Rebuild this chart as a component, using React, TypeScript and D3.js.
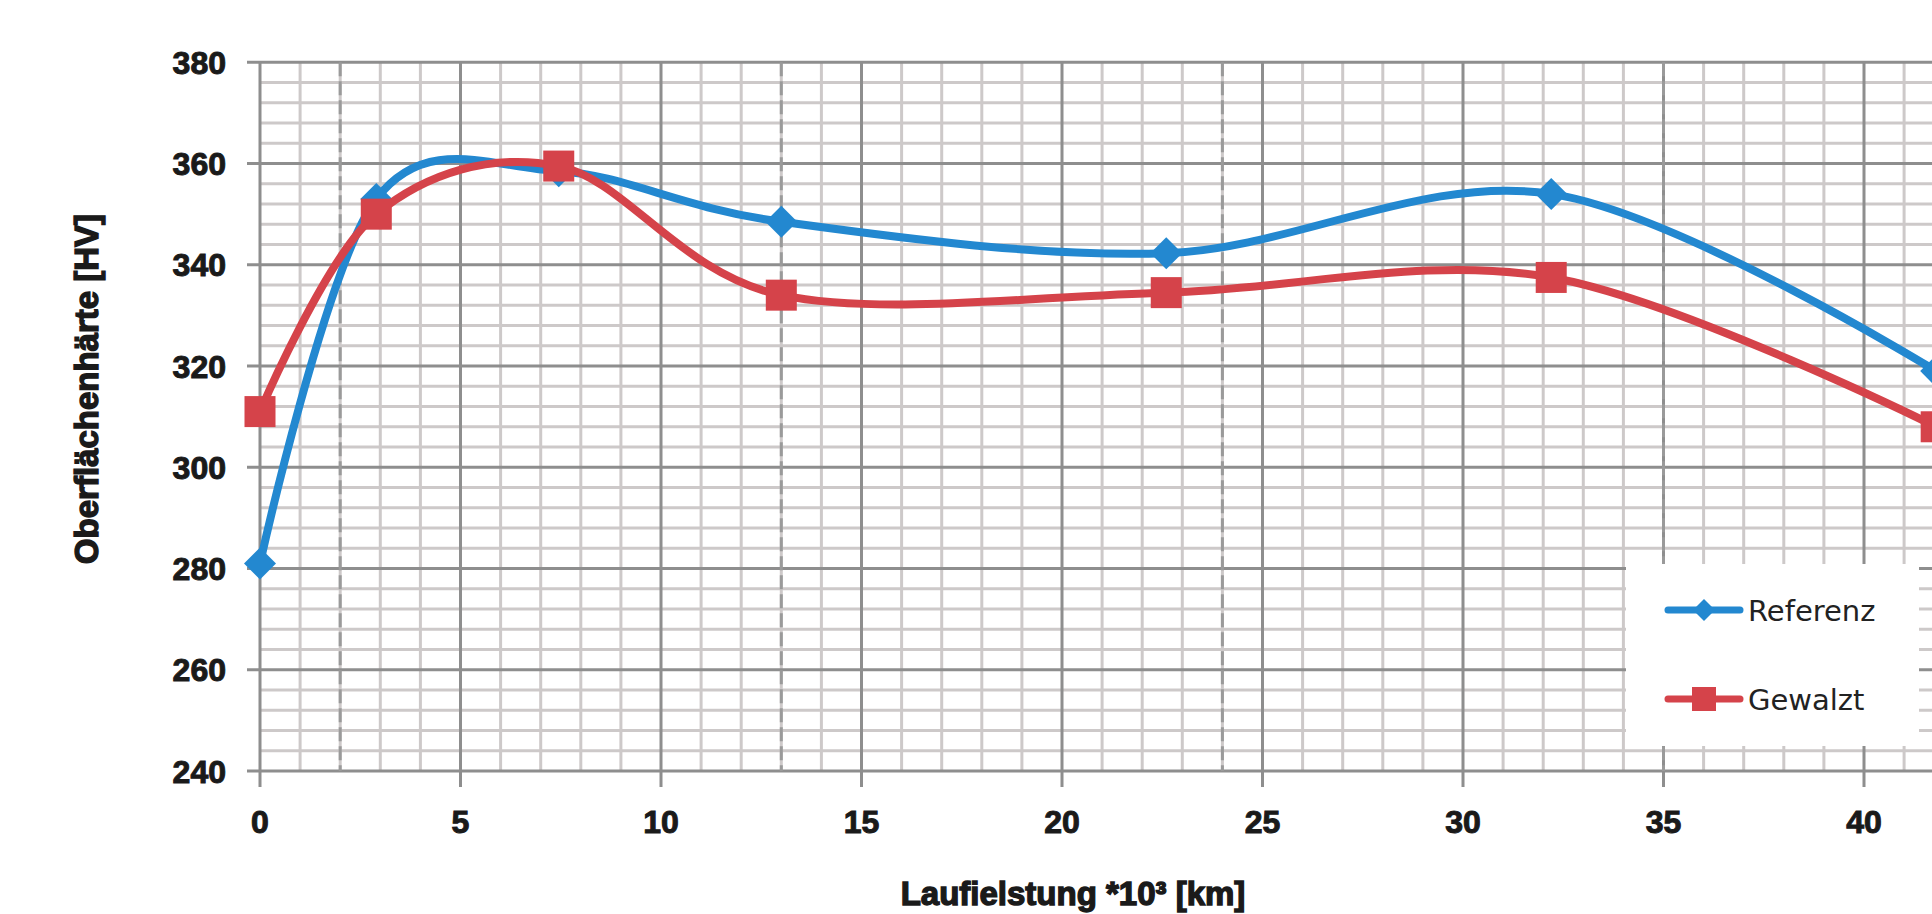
import React, { useEffect, useRef } from 'react';
import * as d3 from 'd3';

// Laufleistung in 1000 km
const kmValues = [0, 2.9, 7.45, 13, 22.6, 32.2, 41.8];
const referenz = [281, 353, 358.5, 348.5, 342.3, 354, 319];
const gewalzt = [311, 350, 359.5, 334, 334.5, 337.5, 308];

const xTicks = [0, 5, 10, 15, 20, 25, 30, 35, 40];
const yTicks = [240, 260, 280, 300, 320, 340, 360, 380];
const dashedLines = [2, 13, 24, 35];

const seriesNames = ['Referenz', 'Gewalzt'];
const BLUE = '#2388d0';
const RED = '#d5434a';

const W = 1932;
const H = 914;

export default function App() {
  const svgRef = useRef<SVGSVGElement | null>(null);

  useEffect(() => {
    const svg = d3.select(svgRef.current);
    svg.selectAll('*').remove();

    const x = d3.scaleLinear().domain([0, 40]).range([260, 1864]);
    const y = d3.scaleLinear().domain([240, 380]).range([771, 62.3]);
    const xMax = x.invert(W);

    const boldFont = "'Liberation Sans', Arial, sans-serif";
    const ink = '#1a1a1a';

    // minor grid
    const minorY = d3.range(240, 381, 4).filter((v) => v % 20 !== 0);
    const minorX = d3.range(0, Math.ceil(xMax) + 1, 1).filter((v) => v % 5 !== 0);

    svg.append('g')
      .selectAll('line')
      .data(minorY)
      .join('line')
      .attr('x1', x(0)).attr('x2', W)
      .attr('y1', (d) => y(d)).attr('y2', (d) => y(d))
      .attr('stroke', '#cdc9c9')
      .attr('stroke-width', 3);

    svg.append('g')
      .selectAll('line')
      .data(minorX)
      .join('line')
      .attr('x1', (d) => x(d)).attr('x2', (d) => x(d))
      .attr('y1', y(380)).attr('y2', y(240))
      .attr('stroke', '#cdc9c9')
      .attr('stroke-width', 3);

    // major grid + ticks
    svg.append('g')
      .selectAll('line')
      .data(yTicks)
      .join('line')
      .attr('x1', x(0) - 13).attr('x2', W)
      .attr('y1', (d) => y(d)).attr('y2', (d) => y(d))
      .attr('stroke', '#8e8e8e')
      .attr('stroke-width', 3);

    svg.append('g')
      .selectAll('line')
      .data(xTicks)
      .join('line')
      .attr('x1', (d) => x(d)).attr('x2', (d) => x(d))
      .attr('y1', y(380)).attr('y2', y(240) + 16)
      .attr('stroke', '#8e8e8e')
      .attr('stroke-width', 3);

    // dashed verticals
    svg.append('g')
      .selectAll('line')
      .data(dashedLines)
      .join('line')
      .attr('x1', (d) => x(d)).attr('x2', (d) => x(d))
      .attr('y1', y(380)).attr('y2', y(240))
      .attr('stroke', '#9a9a9a')
      .attr('stroke-width', 3)
      .attr('stroke-dasharray', '14,5');

    // series
    const line = d3.line<number>()
      .x((_, i) => x(kmValues[i]))
      .y((d) => y(d))
      .curve(d3.curveCardinal.tension(0));

    const diamond = (cx: number, cy: number, r: number) =>
      `M${cx},${cy - r}L${cx + r},${cy}L${cx},${cy + r}L${cx - r},${cy}Z`;

    svg.append('path')
      .datum(referenz)
      .attr('d', line)
      .attr('fill', 'none')
      .attr('stroke', BLUE)
      .attr('stroke-width', 8)
      .attr('stroke-linejoin', 'round');

    svg.append('g')
      .selectAll('path')
      .data(referenz)
      .join('path')
      .attr('d', (d, i) => diamond(x(kmValues[i]), y(d), 16))
      .attr('fill', BLUE);

    svg.append('path')
      .datum(gewalzt)
      .attr('d', line)
      .attr('fill', 'none')
      .attr('stroke', RED)
      .attr('stroke-width', 8)
      .attr('stroke-linejoin', 'round');

    svg.append('g')
      .selectAll('rect')
      .data(gewalzt)
      .join('rect')
      .attr('x', (_, i) => x(kmValues[i]) - 15.5)
      .attr('y', (d) => y(d) - 15.5)
      .attr('width', 31)
      .attr('height', 31)
      .attr('fill', RED);

    // legend
    const lg = svg.append('g');
    lg.append('rect')
      .attr('x', 1626).attr('y', 564)
      .attr('width', 293).attr('height', 182)
      .attr('fill', '#fff');

    const legendRows = [610, 699];
    seriesNames.forEach((name, i) => {
      const ly = legendRows[i];
      const color = i === 0 ? BLUE : RED;
      lg.append('line')
        .attr('x1', 1668).attr('x2', 1740)
        .attr('y1', ly).attr('y2', ly)
        .attr('stroke', color)
        .attr('stroke-width', 7)
        .attr('stroke-linecap', 'round');
      if (i === 0) {
        lg.append('path').attr('d', diamond(1704, ly, 11)).attr('fill', color);
      } else {
        lg.append('rect')
          .attr('x', 1692).attr('y', ly - 12)
          .attr('width', 24).attr('height', 24)
          .attr('fill', color);
      }
      lg.append('text')
        .attr('x', 1748).attr('y', ly + 11)
        .attr('font-family', "'DejaVu Sans', sans-serif")
        .attr('font-size', 29)
        .attr('fill', '#222')
        .text(name);
    });

    // tick labels
    svg.append('g')
      .selectAll('text')
      .data(yTicks)
      .join('text')
      .attr('x', 226)
      .attr('y', (d) => y(d))
      .attr('dy', '0.36em')
      .attr('text-anchor', 'end')
      .attr('font-family', boldFont)
      .attr('font-weight', 'bold')
      .attr('font-size', 32)
      .attr('fill', ink)
      .attr('stroke', ink)
      .attr('stroke-width', 1)
      .text((d) => d);

    svg.append('g')
      .selectAll('text')
      .data(xTicks)
      .join('text')
      .attr('x', (d) => x(d))
      .attr('y', 833)
      .attr('text-anchor', 'middle')
      .attr('font-family', boldFont)
      .attr('font-weight', 'bold')
      .attr('font-size', 32)
      .attr('fill', ink)
      .attr('stroke', ink)
      .attr('stroke-width', 1)
      .text((d) => d);

    // axis titles
    svg.append('text')
      .attr('x', 1073).attr('y', 905)
      .attr('text-anchor', 'middle')
      .attr('font-family', boldFont)
      .attr('font-weight', 'bold')
      .attr('font-size', 33)
      .attr('fill', ink)
      .attr('stroke', ink)
      .attr('stroke-width', 1.4)
      .text('Laufielstung *10³ [km]');

    svg.append('text')
      .attr('transform', 'translate(98, 389) rotate(-90)')
      .attr('text-anchor', 'middle')
      .attr('font-family', boldFont)
      .attr('font-weight', 'bold')
      .attr('font-size', 33)
      .attr('fill', ink)
      .attr('stroke', ink)
      .attr('stroke-width', 1.4)
      .text('Oberflächenhärte [HV]');
  }, []);

  return (
    <svg
      ref={svgRef}
      width={W}
      height={H}
      style={{ position: 'absolute', left: 0, top: 0, display: 'block', background: '#fff' }}
    />
  );
}
